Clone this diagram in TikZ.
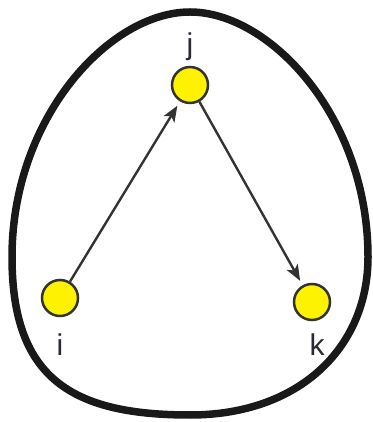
\documentclass[tikz,border=0pt]{standalone}
\usepackage{fontspec}
\setmainfont{Liberation Sans}
\usetikzlibrary{arrows.meta}
\definecolor{nodeyellow}{HTML}{FFF200}
\definecolor{edgegray}{HTML}{333333}
\definecolor{labelgray}{HTML}{2A2A35}
\tikzset{
  vert/.style={circle, draw=edgegray, line width=2.5pt, fill=nodeyellow, minimum size=36pt, inner sep=0pt},
  arc/.style={draw=edgegray, line width=2.4pt, shorten >=5pt, -{Stealth[length=16pt,width=12.5pt,inset=4pt]}},
  lbl/.style={anchor=base, text=labelgray, font=\fontsize{30}{36}\selectfont, inner sep=0pt},
  egg/.style={draw=black!90, line width=7.5pt}
}
\begin{document}
\begin{tikzpicture}[x=1pt,y=1pt]
\useasboundingbox (0,0) rectangle (372,422);
\draw[egg] (190,410) .. controls (270,410) and (368,305) .. (368,165)
  .. controls (368,75) and (300,7) .. (190,7)
  .. controls (70,7) and (12,45) .. (12,165)
  .. controls (12,305) and (110,410) .. (190,410) -- cycle;
\node[vert] (i) at (60,124) {};
\node[vert] (j) at (190,337) {};
\node[vert] (k) at (312,120) {};
\node[lbl] (li) at (60,66) {i};
\node[lbl] (lj) at (190,367) {j};
\node[lbl] (lk) at (317,66) {k};
\draw[arc] (i) -- (j);
\draw[arc] (j) -- (k);
\end{tikzpicture}
\end{document}
